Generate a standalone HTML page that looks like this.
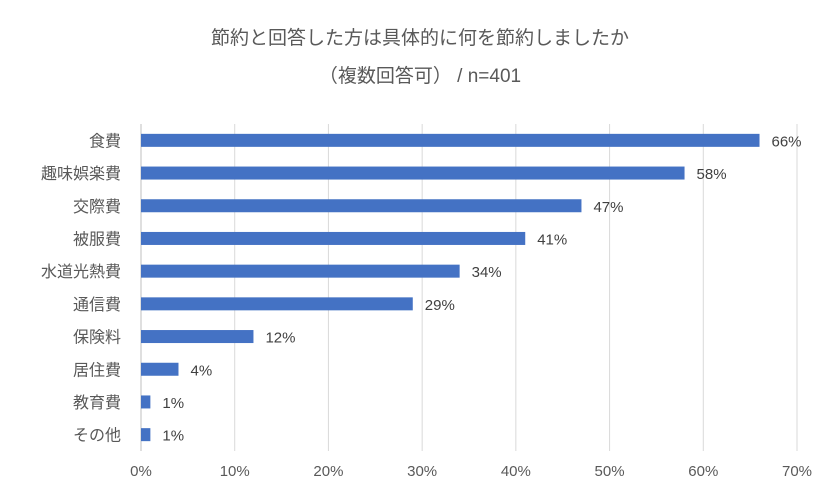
<!DOCTYPE html>
<html><head><meta charset="utf-8"><style>
body{margin:0;background:#fff;}
svg{display:block;font-family:"Liberation Sans","Noto Sans CJK JP",sans-serif;}
</style></head><body>
<svg id="c" width="840" height="503">
<text x="420" y="44" text-anchor="middle" font-size="19" fill="#595959">節約と回答した方は具体的に何を節約しましたか</text>
<text x="420" y="82" text-anchor="middle" font-size="19" fill="#595959">（複数回答可） / n=401</text>
<g id="grid"></g><g id="bars"></g><g id="labels"></g>
</svg>
<script>
const categories=["食費","趣味娯楽費","交際費","被服費","水道光熱費","通信費","保険料","居住費","教育費","その他"];
const values=[66,58,47,41,34,29,12,4,1,1];
const ticks=[0,10,20,30,40,50,60,70];
const ns="http://www.w3.org/2000/svg";
const x0=141,x1=797,plotTop=124,rowH=32.7;
const xs=v=>x0+(x1-x0)*v/70;
const yc=i=>plotTop+rowH*(i+0.5);
function mk(t,a,p,txt){const e=document.createElementNS(ns,t);for(const k in a)e.setAttribute(k,a[k]);if(txt!=null)e.textContent=txt;p.appendChild(e);return e;}
const g=document.getElementById('grid'),b=document.getElementById('bars'),l=document.getElementById('labels');
ticks.forEach(t=>{
 const ln=mk('line',{x1:xs(t),x2:xs(t),y1:plotTop,y2:plotTop+rowH*10,stroke:t===0?'#bfbfbf':'#d9d9d9','stroke-width':1},g);
 
 
 const tx=mk('text',{x:xs(t),y:476,'text-anchor':'middle','font-size':15,fill:'#595959'},g,t+'%');
 
 
});
categories.forEach((c,i)=>{
 const r=mk('rect',{x:x0,y:yc(i)-6.5,width:xs(values[i])-x0,height:13,fill:'#4472c4'},b);
 
 
 const ct=mk('text',{x:121,y:yc(i)+6,'text-anchor':'end','font-size':16,fill:'#595959'},l,c);
 
 
 const vt=mk('text',{x:xs(values[i])+12,y:yc(i)+6,'font-size':15,fill:'#404040'},l,values[i]+'%');
 
 
});
</script>
</body></html>
